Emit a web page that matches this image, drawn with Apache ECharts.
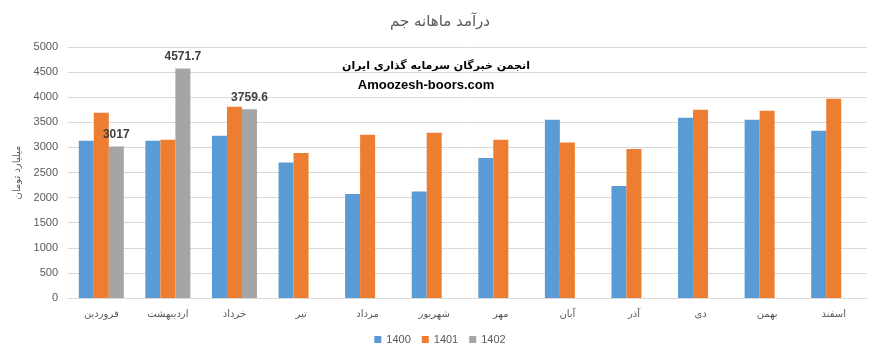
<!DOCTYPE html>
<html>
<head>
<meta charset="utf-8">
<script src="https://cdn.jsdelivr.net/npm/echarts@6/dist/echarts.min.js"></script>
<style>html,body{margin:0;padding:0;background:#fff}#c{width:880px;height:360px}</style>
</head>
<body>
<div id="c"></div>
<script>
const categories = ['فروردین','اردیبهشت','خرداد','تیر','مرداد','شهریور','مهر','آبان','آذر','دی','بهمن','اسفند'];
const s1400 = [3130,3130,3230,2700,2070,2120,2790,3550,2230,3590,3550,3330];
const s1401 = [3690,3150,3810,2890,3250,3290,3150,3100,2970,3750,3730,3970];
const s1402 = [3017,4571.7,3759.6,null,null,null,null,null,null,null,null,null];
const seriesNames = ['1400','1401','1402'];
const yTicks = {min:0,max:5000,interval:500};

const chart = echarts.init(document.getElementById('c'));
const font = 'Liberation Sans, DejaVu Sans, sans-serif';
chart.setOption({
  animation:false,
  title:{text:'درآمد ماهانه جم',left:'center',top:10,textStyle:{color:'#595959',fontSize:15,fontWeight:'normal',fontFamily:'DejaVu Sans'}},
  legend:{data:seriesNames,bottom:10,left:'center',itemWidth:7,itemHeight:7,itemGap:11,icon:'rect',textStyle:{color:'#595959',fontSize:11,fontFamily:font}},
  grid:{left:68,right:13,top:47,bottom:62},
  xAxis:{type:'category',data:categories,axisLine:{lineStyle:{color:'#d9d9d9'}},axisTick:{show:false},
    axisLabel:{color:'#595959',fontSize:10,fontFamily:'DejaVu Sans',margin:11}},
  yAxis:{type:'value',min:yTicks.min,max:yTicks.max,interval:yTicks.interval,
    name:'میلیارد تومان',nameLocation:'middle',nameGap:44,nameRotate:90,
    nameTextStyle:{color:'#595959',fontSize:10,fontFamily:'DejaVu Sans'},
    axisLabel:{color:'#595959',fontSize:11,fontFamily:font,margin:10,formatter:v=>String(v)},
    splitLine:{lineStyle:{color:'#d9d9d9'}},axisLine:{show:false},axisTick:{show:false}},
  series:[
    {name:seriesNames[0],type:'bar',data:s1400,barWidth:15,barGap:'0%',itemStyle:{color:'#5b9bd5'}},
    {name:seriesNames[1],type:'bar',data:s1401,barWidth:15,barGap:'0%',itemStyle:{color:'#ed7d31'}},
    {name:seriesNames[2],type:'bar',data:s1402,barWidth:15,barGap:'0%',itemStyle:{color:'#a5a5a5'},
      label:{show:true,position:'top',distance:6,color:'#404040',fontSize:12,fontWeight:'bold',fontFamily:font}}
  ],
  graphic:[
    {type:'text',style:{x:436,y:66,text:'انجمن خبرگان سرمایه گذاری ایران',fill:'#000',font:'bold 11px DejaVu Sans',align:'center',verticalAlign:'middle'}},
    {type:'text',style:{x:426,y:85,text:'Amoozesh-boors.com',fill:'#000',font:'bold 13px Liberation Sans',align:'center',verticalAlign:'middle'}}
  ]
});
</script>
</body>
</html>
